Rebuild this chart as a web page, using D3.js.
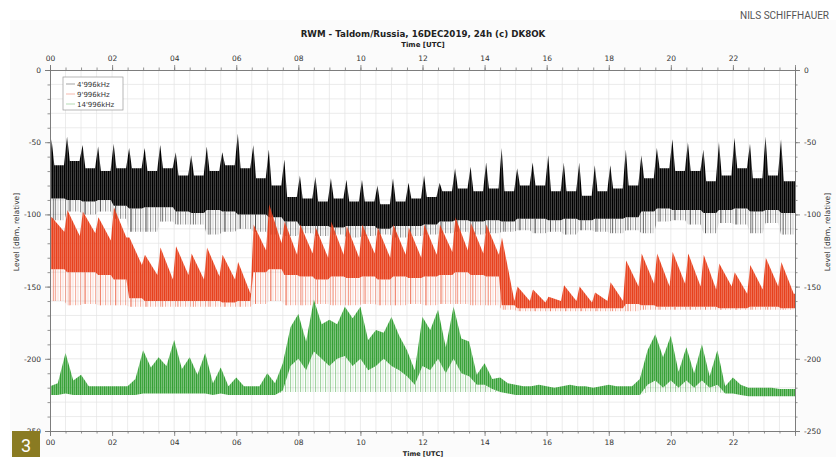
<!DOCTYPE html>
<html lang="en">
<head>
  <meta charset="UTF-8">
  <title>RWM - Taldom/Russia, 16DEC2019, 24h</title>
  <style>
    body { margin: 0; background: #fff; }
    text { font-family: "DejaVu Sans", sans-serif; }
  </style>
</head>
<body>
  <script src="https://d3js.org/d3.v7.min.js"></script>
  <script>
    // axis ticks
    const hourTicks = d3.range(0, 24, 2);
    const levelTicks = [0, -50, -100, -150, -200, -250];
    const seriesNames = ["4'996kHz", "9'996kHz", "14'996kHz"];
    const seriesColors = ["#000000", "#e8401c", "#34a034"];

    // 4'996 kHz, one value per 30-minute cycle (peak, upper edge, core bottom, faint dip)
    const blackPeak = [-48, -46, -52, -53, -51, -54, -54, -52, -57, -59, -53, -57, -44, -52, -55, -62,
      -73, -74, -75, -76, -76, -80, -75, -78, -73, -78, -68, -67, -64, -54, -68, -64,
      -59, -64, -64, -66, -66, -55, -59, -54, -48, -50, -55, -50, -47, -51, -46, -48];
    const blackTop = [-66, -63, -68, -70, -68, -68, -70, -68, -73, -73, -70, -66, -68, -75, -80, -88,
      -89, -91, -89, -91, -91, -93, -91, -89, -88, -84, -82, -84, -82, -84, -80, -80,
      -84, -84, -87, -84, -82, -80, -75, -68, -70, -70, -77, -73, -68, -75, -73, -77];
    const blackLow = [-89, -90, -91, -90, -94, -96, -95, -95, -98, -99, -97, -98, -100, -100, -102, -105,
      -108, -108, -109, -108, -108, -110, -108, -108, -107, -105, -104, -105, -104, -105, -103, -103,
      -104, -103, -104, -103, -103, -102, -98, -96, -97, -97, -99, -97, -96, -98, -97, -99];
    const blackDip = [-104, -98, -100, -98, -103, -112, -112, -105, -107, -107, -114, -112, -110, -112, -114, -115,
      -113, -115, -114, -116, -115, -114, -116, -115, -114, -113, -112, -114, -113, -112, -111, -113,
      -112, -114, -111, -112, -113, -111, -113, -105, -104, -107, -113, -106, -107, -113, -106, -114];

    // 9'996 kHz
    const redPeak = [-102, -97, -98, -102, -95, -116, -128, -123, -122, -127, -123, -128, -133, -107, -93, -105,
      -107, -109, -105, -108, -107, -109, -107, -109, -107, -107, -102, -106, -107, -116, -150, -152,
      -157, -149, -150, -154, -147, -132, -127, -127, -126, -127, -128, -134, -140, -135, -130, -133];
    const redTop = [-112, -115, -113, -118, -116, -135, -142, -145, -142, -145, -143, -145, -155, -125, -120, -128,
      -127, -130, -128, -130, -127, -130, -128, -130, -128, -126, -125, -127, -128, -160, -160, -161,
      -160, -160, -161, -160, -160, -150, -148, -150, -148, -150, -152, -150, -155, -152, -150, -155];
    const redLow = [-138, -140, -140, -142, -145, -158, -160, -160, -160, -160, -160, -161, -160, -140, -138, -142,
      -143, -145, -143, -144, -143, -145, -143, -144, -143, -142, -140, -142, -143, -163, -165, -165,
      -165, -165, -165, -165, -165, -162, -163, -164, -164, -164, -164, -165, -165, -164, -164, -165];
    const redDip = [-160, -163, -162, -163, -163, -164, -164, -164, -164, -164, -164, -164, -164, -162, -160, -163,
      -163, -162, -163, -163, -162, -163, -163, -162, -163, -162, -162, -163, -163, -166, -167, -167,
      -167, -167, -167, -167, -167, -167, -166, -166, -166, -166, -166, -166, -166, -166, -166, -166];

    // 14'996 kHz, one value every 15 minutes
    const greenHi = [-219, -217, -196, -215, -211, -219, -219, -219, -219, -219, -219, -214, -194, -206, -199, -205,
      -187, -207, -199, -211, -196, -217, -206, -219, -213, -219, -219, -219, -210, -217, -203, -178,
      -169, -188, -159, -176, -173, -176, -164, -172, -164, -187, -180, -182, -171, -184, -194, -208,
      -171, -180, -166, -192, -164, -186, -188, -211, -203, -214, -213, -217, -218, -219, -219, -218,
      -219, -220, -219, -218, -219, -219, -220, -219, -218, -219, -219, -219, -214, -194, -183, -199,
      -184, -209, -192, -210, -190, -212, -194, -219, -213, -218, -220, -220, -220, -220, -221, -221, -221];
    const greenLo = [-225, -225, -224, -225, -225, -225, -225, -225, -225, -225, -225, -225, -224, -224, -224, -224,
      -224, -224, -224, -224, -224, -225, -224, -225, -225, -225, -225, -225, -225, -225, -222, -205,
      -200, -208, -195, -200, -205, -200, -198, -205, -200, -208, -205, -200, -205, -208, -212, -218,
      -205, -208, -200, -210, -200, -210, -212, -218, -218, -221, -223, -224, -225, -225, -225, -225,
      -225, -225, -225, -225, -225, -225, -225, -225, -225, -225, -225, -225, -225, -218, -215, -220,
      -215, -220, -215, -220, -215, -220, -218, -224, -224, -225, -226, -226, -226, -226, -226, -226, -226];
    const greenFloor = -223;

    const cycleStart = d3.range(48).map(k => k * 0.5);
    const greenTime = d3.range(97).map(i => i * 0.25);

    const width = 836, height = 457;
    const plot = { left: 50, right: 795, top: 70, bottom: 431 };

    const svg = d3.select('body').append('svg')
      .attr('width', width)
      .attr('height', height);

    // hairline textures, one per colour
    const defs = svg.append('defs');
    seriesColors.forEach((c, i) => {
      const p = defs.append('pattern')
        .attr('id', `hair${i}`)
        .attr('patternUnits', 'userSpaceOnUse')
        .attr('width', 5).attr('height', 20);
      [[0.5, 1.0, 0.9], [2.2, 0.6, 0.55], [3.6, 0.7, 0.35]].forEach(([px, sw, op]) => {
        p.append('line')
          .attr('x1', px).attr('x2', px).attr('y1', 0).attr('y2', 20)
          .attr('stroke', c).attr('stroke-width', sw).attr('opacity', op);
      });
      const q = defs.append('pattern')
        .attr('id', `dense${i}`)
        .attr('patternUnits', 'userSpaceOnUse')
        .attr('width', 4).attr('height', 20);
      q.append('rect').attr('width', 4).attr('height', 20).attr('fill', c).attr('opacity', i === 2 ? 0.6 : 0.72);
      [[0.6, 1.2], [2.6, 0.9]].forEach(([px, sw]) => {
        q.append('line')
          .attr('x1', px).attr('x2', px).attr('y1', 0).attr('y2', 20)
          .attr('stroke', c).attr('stroke-width', sw);
      });
    });

    svg.append('rect')
      .attr('x', 10).attr('y', 20)
      .attr('width', width - 10).attr('height', height - 20)
      .attr('fill', '#fbfbfb');

    svg.append('text')
      .attr('x', 740).attr('y', 19)
      .style('font-family', 'Roboto, sans-serif')
      .style('font-size', '10px')
      .attr('fill', '#555')
      .text('NILS SCHIFFHAUER');

    const x = d3.scaleLinear().domain([0, 24]).range([plot.left, plot.right]);
    const y = d3.scaleLinear().domain([-250, 0]).range([plot.bottom, plot.top]);

    svg.append('rect')
      .attr('x', plot.left).attr('y', plot.top)
      .attr('width', plot.right - plot.left).attr('height', plot.bottom - plot.top)
      .attr('fill', '#fff');

    // grid
    const grid = svg.append('g').attr('stroke', '#e4e4e4').attr('stroke-width', 0.7);
    grid.selectAll('.gx').data(d3.range(0.5, 24, 0.5)).join('line')
      .attr('x1', d => x(d)).attr('x2', d => x(d))
      .attr('y1', plot.top).attr('y2', plot.bottom);
    grid.selectAll('.gy').data(d3.range(-240, 0, 10)).join('line')
      .attr('x1', plot.left).attr('x2', plot.right)
      .attr('y1', d => y(d)).attr('y2', d => y(d));

    svg.append('clipPath').attr('id', 'clip')
      .append('rect')
      .attr('x', plot.left).attr('y', plot.top)
      .attr('width', plot.right - plot.left).attr('height', plot.bottom - plot.top);

    const g = svg.append('g').attr('clip-path', 'url(#clip)');
    const line = d3.line().x(d => x(d[0])).y(d => y(d[1]));

    function band(upper, lower) {
      return line(upper.concat(lower.slice().reverse())) + 'Z';
    }

    // constant value across each cycle
    function flat(vals, a, b) {
      const pts = [[0, vals[0]]];
      vals.forEach((v, k) => pts.push([cycleStart[k] + a, v], [cycleStart[k] + b, v]));
      pts.push([24, vals[vals.length - 1]]);
      return pts;
    }

    function drawCycles(peak, top, low, dip, ci, shape) {
      const color = seriesColors[ci];
      const upper = [[0, shape === 'spike' ? top[0] : peak[0]]];
      peak.forEach((p, k) => {
        const t0 = cycleStart[k];
        if (shape === 'spike') {
          upper.push([t0 + 0.05, p], [t0 + 0.14, top[k]], [t0 + 0.45, top[k]]);
        } else {
          upper.push([t0 + 0.06, p], [t0 + 0.46, top[k]]);
        }
      });
      upper.push([24, top[top.length - 1]]);
      const lower = flat(low, 0.05, 0.46);
      const bottom = flat(dip, 0.05, 0.46);

      g.append('path').attr('d', band(lower, bottom))
        .attr('fill', `url(#hair${ci})`).attr('opacity', 0.45);

      g.selectAll(null).data(d3.range(48)).join('line')
        .attr('x1', k => x(cycleStart[k] + 0.12)).attr('x2', k => x(cycleStart[k] + 0.12))
        .attr('y1', k => y(low[k])).attr('y2', k => y(dip[k]))
        .attr('stroke', color).attr('stroke-width', 0.8).attr('opacity', 0.6);

      g.append('path').attr('d', band(upper, lower))
        .attr('fill', `url(#dense${ci})`);
    }

    drawCycles(blackPeak, blackTop, blackLow, blackDip, 0, 'spike');
    drawCycles(redPeak, redTop, redLow, redDip, 1, 'saw');

    const greenUpper = greenTime.map((t, i) => [t, greenHi[i]]);
    const greenLower = greenTime.map((t, i) => [t, greenLo[i]]);
    const greenBase = greenTime.map((t, i) => [t, Math.min(greenLo[i], greenFloor)]);
    g.append('path').attr('d', band(greenLower, greenBase))
      .attr('fill', 'url(#hair2)').attr('opacity', 0.5);
    g.append('path').attr('d', band(greenUpper, greenLower))
      .attr('fill', 'url(#dense2)');

    // frame and axes
    const fmtHour = d3.format('02d');
    const minorHours = d3.range(0, 24.01, 0.5);
    const minorLevels = d3.range(-250, 1, 10);

    function styleAxis(sel) {
      sel.select('.domain').attr('stroke', '#777').attr('stroke-width', 0.8);
      sel.selectAll('.tick line').attr('stroke', '#777').attr('stroke-width', 0.8);
      sel.selectAll('.tick text').attr('fill', '#333')
        .style('font-size', '7.5px').style('font-family', '"DejaVu Sans", sans-serif');
    }

    const axes = [
      [d3.axisTop, x, plot.top, 'x'],
      [d3.axisBottom, x, plot.bottom, 'x'],
      [d3.axisLeft, y, plot.left, 'y'],
      [d3.axisRight, y, plot.right, 'y']
    ];
    axes.forEach(([make, scale, pos, dim]) => {
      const tr = dim === 'x' ? `translate(0,${pos})` : `translate(${pos},0)`;
      const minor = dim === 'x' ? minorHours : minorLevels;
      svg.append('g').attr('transform', tr)
        .call(make(scale).tickValues(minor).tickFormat('').tickSize(2.5))
        .call(styleAxis);
      const major = dim === 'x'
        ? make(scale).tickValues(hourTicks).tickFormat(d => fmtHour(d))
        : make(scale).tickValues(levelTicks).tickFormat(d => String(d));
      svg.append('g').attr('transform', tr)
        .call(major.tickSize(5).tickPadding(4))
        .call(styleAxis);
    });

    // titles
    svg.append('text')
      .attr('x', 423).attr('y', 37)
      .attr('text-anchor', 'middle')
      .style('font-size', '8.7px').style('font-weight', 'bold')
      .attr('fill', '#222')
      .text('RWM - Taldom/Russia, 16DEC2019, 24h (c) DK8OK');
    svg.append('text')
      .attr('x', 423).attr('y', 47)
      .attr('text-anchor', 'middle')
      .style('font-size', '7px').style('font-weight', 'bold')
      .attr('fill', '#222')
      .text('Time [UTC]');
    svg.append('text')
      .attr('x', 423).attr('y', 455.5)
      .attr('text-anchor', 'middle')
      .style('font-size', '6.5px').style('font-weight', 'bold')
      .attr('fill', '#222')
      .text('Time [UTC]');

    [[19, 232], [830, 232]].forEach(([lx, ly]) => {
      svg.append('text')
        .attr('transform', `translate(${lx},${ly}) rotate(-90)`)
        .attr('text-anchor', 'middle')
        .style('font-size', '7.5px')
        .attr('fill', '#333')
        .text('Level [dBm, relative]');
    });

    // legend
    const legend = svg.append('g').attr('transform', 'translate(63,77)');
    legend.append('rect')
      .attr('width', 60).attr('height', 33)
      .attr('fill', '#fff').attr('stroke', '#999').attr('stroke-width', 0.7);
    seriesNames.forEach((name, i) => {
      const row = legend.append('g').attr('transform', `translate(0,${7 + i * 10})`);
      row.append('line')
        .attr('x1', 3).attr('x2', 12)
        .attr('stroke', seriesColors[i]).attr('stroke-width', 0.6).attr('opacity', 0.6);
      row.append('text')
        .attr('x', 14).attr('y', 2.5)
        .style('font-size', '7px')
        .attr('fill', '#333')
        .text(name);
    });

    // figure number badge
    svg.append('rect')
      .attr('x', 12).attr('y', 431)
      .attr('width', 28).attr('height', 26)
      .attr('fill', '#8a7b22');
    svg.append('text')
      .attr('x', 26).attr('y', 452)
      .attr('text-anchor', 'middle')
      .style('font-family', 'Roboto, sans-serif')
      .style('font-size', '18px')
      .attr('fill', '#fff')
      .text('3');
  </script>
</body>
</html>
